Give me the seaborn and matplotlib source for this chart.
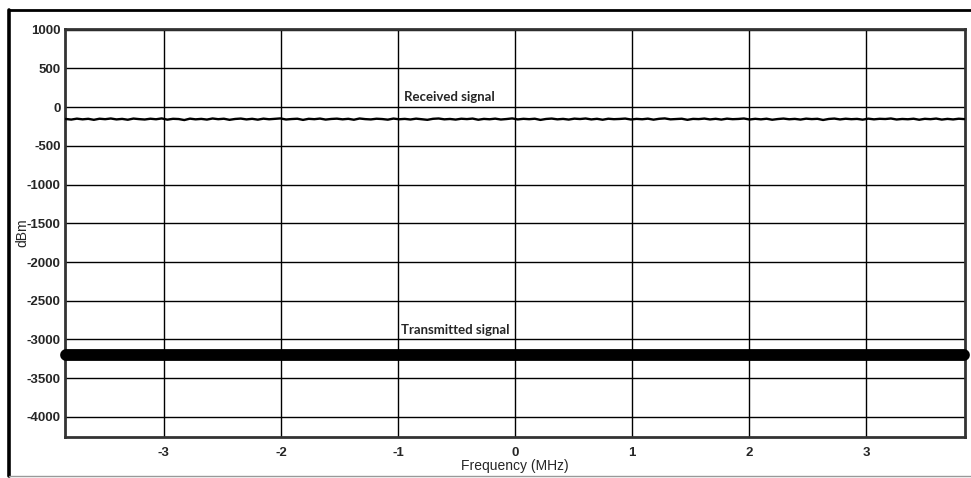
import numpy as np
import pandas as pd
import matplotlib
matplotlib.use("Agg")
import matplotlib.pyplot as plt
import seaborn as sns
from matplotlib.lines import Line2D

# Frequency axis (MHz) and readings (dBm)
freq_rx = np.linspace(-3.84, 3.84, 160)
rx_dbm = [-152, -160, -148, -157, -150, -163, -149, -155, -146, -158,
          -151, -162, -147, -154, -159, -149, -156, -145, -161, -150,
          -153, -166, -148, -157, -151, -160, -146, -155, -149, -163,
          -152, -147, -158, -150, -161, -148, -156, -151, -145, -159,
          -153, -149, -164, -150, -155, -147, -160, -152, -148, -157,
          -150, -162, -146, -154, -158, -149, -153, -161, -147, -156,
          -151, -159, -148, -155, -163, -150, -146, -157, -152, -160,
          -149, -154, -147, -162, -151, -156, -148, -159, -153, -145,
          -158, -150, -155, -149, -164, -152, -147, -157, -151, -160,
          -148, -153, -146, -158, -150, -162, -149, -155, -152, -147,
          -159, -151, -156, -148, -161, -150, -145, -157, -153, -149,
          -163, -151, -154, -147, -158, -150, -160, -148, -155, -152,
          -146, -159, -150, -157, -149, -162, -153, -147, -156, -151,
          -160, -148, -154, -150, -165, -152, -147, -158, -149, -155,
          -151, -161, -148, -157, -150, -153, -146, -159, -152, -156,
          -149, -162, -150, -155, -147, -160, -151, -158, -149, -154]
freq_tx = [-3.84, -2.0, 0.0, 2.0, 3.84]
tx_dbm = [-3200, -3200, -3200, -3200, -3200]

x_ticks = [-3, -2, -1, 0, 1, 2, 3]
y_ticks = [1000, 500, 0, -500, -1000, -1500, -2000, -2500, -3000, -3500, -4000]

sns.set_theme(style="white")
plt.rcParams.update({
    'font.family': ['Liberation Sans', 'DejaVu Sans'],
    'axes.edgecolor': '#333333',
    'axes.linewidth': 2.0,
})

fig = plt.figure(figsize=(9.71, 4.78), dpi=100)
ax = fig.add_axes([65 / 971, 1 - 437 / 478, 900 / 971, 408 / 478])

rx = pd.DataFrame({'freq': freq_rx, 'dbm': rx_dbm})
tx = pd.DataFrame({'freq': freq_tx, 'dbm': tx_dbm})

sns.lineplot(data=rx, x='freq', y='dbm', ax=ax, color='black', linewidth=1.7, zorder=3)
sns.lineplot(data=tx, x='freq', y='dbm', ax=ax, color='black', linewidth=8.5,
             solid_capstyle='round', zorder=3, clip_on=False)

ax.set_xlim(-3.845, 3.845)
ax.set_ylim(-4260, 1010)
ax.set_xticks(x_ticks)
ax.set_yticks(y_ticks)
ax.set_xticklabels([str(t) for t in x_ticks], fontweight='bold', fontsize=9.5)
ax.set_yticklabels([str(t) for t in y_ticks], fontweight='bold', fontsize=9.5)
ax.tick_params(axis='x', length=0, pad=7)
ax.tick_params(axis='y', length=0, pad=3)
ax.grid(True, color='black', linewidth=1.0)
ax.set_axisbelow(True)

ax.set_xlabel("Frequency (MHz)", fontsize=10, labelpad=0)
ax.set_ylabel("dBm", fontsize=10, labelpad=-2)

ax.text(-0.95, 60, "Received signal", fontsize=9.5, fontweight='bold',
        family=['Lato', 'DejaVu Sans'], va='bottom', ha='left')
ax.text(-0.97, -2960, "Transmitted signal", fontsize=9.5, fontweight='bold',
        family=['Lato', 'DejaVu Sans'], va='bottom', ha='left')

# outer frame: thick left and top edges, faint bottom edge
fig.add_artist(Line2D([9 / 971, 9 / 971], [2 / 478, 1 - 10 / 478],
                      transform=fig.transFigure, color='black', linewidth=2.6))
fig.add_artist(Line2D([9 / 971, 1.0], [1 - 10 / 478, 1 - 10 / 478],
                      transform=fig.transFigure, color='black', linewidth=2.0))
fig.add_artist(Line2D([9 / 971, 1.0], [2 / 478, 2 / 478],
                      transform=fig.transFigure, color='#999999', linewidth=1.0))

plt.savefig("out.png", dpi=100)
plt.close()
